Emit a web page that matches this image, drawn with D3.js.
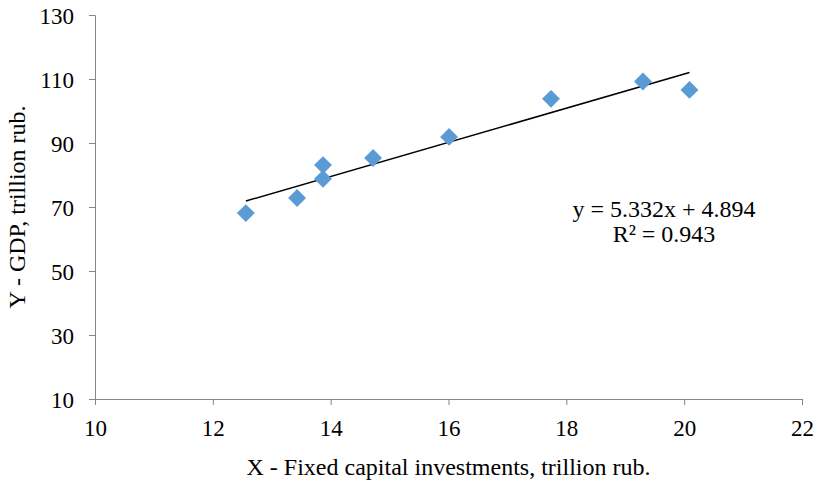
<!DOCTYPE html>
<html lang="en">
<head>
<meta charset="UTF-8">
<title>GDP vs investments</title>
<script src="https://d3js.org/d3.v7.min.js"></script>
<style>
  body { margin: 0; background: #fff; }
  text { font-family: "Liberation Serif", "Times New Roman", serif; fill: #000; }
</style>
</head>
<body>
<div id="chart"></div>
<script>
// data
const investments = [12.56, 13.43, 13.87, 13.87, 14.72, 16.01, 17.74, 19.30, 20.09];
const gdp = [68.1, 72.8, 83.1, 78.8, 85.3, 91.9, 103.8, 109.2, 106.6];
const xTicks = [10, 12, 14, 16, 18, 20, 22];
const yTicks = [10, 30, 50, 70, 90, 110, 130];
const slope = 5.332;
const intercept = 4.894;
const r2 = 0.943;

const w = 815, h = 480;
const plotLeft = 95, plotRight = 802, plotTop = 15, plotBottom = 399;

const svg = d3.select('#chart').append('svg')
    .attr('width', w)
    .attr('height', h);

const x = d3.scaleLinear().domain([10, 22]).range([plotLeft, plotRight]);
const y = d3.scaleLinear().domain([10, 130]).range([plotBottom, plotTop]);

const xAxis = svg.append('g')
    .attr('transform', 'translate(0,' + plotBottom + ')')
    .call(d3.axisBottom(x).tickValues(xTicks).tickSize(6).tickPadding(15).tickFormat(d3.format('d')));
const yAxis = svg.append('g')
    .attr('transform', 'translate(' + plotLeft + ',0)')
    .call(d3.axisLeft(y).tickValues(yTicks).tickSize(6).tickPadding(15).tickFormat(d3.format('d')));

[xAxis, yAxis].forEach(g => {
    g.select('.domain').attr('stroke', '#868686');
    g.selectAll('.tick line').attr('stroke', '#868686');
    g.selectAll('.tick text').style('font-size', '23px').attr('fill', '#000');
});
yAxis.selectAll('.tick text').attr('dy', '0.35em');

// trend line across data range
const xr = d3.extent(investments);
svg.append('line')
    .attr('x1', x(xr[0])).attr('y1', y(slope * xr[0] + intercept))
    .attr('x2', x(xr[1])).attr('y2', y(slope * xr[1] + intercept))
    .attr('stroke', '#000')
    .attr('stroke-width', 1.5);

// diamonds
const diamond = d3.symbol().type(d3.symbolSquare).size(160);
svg.selectAll('path.pt')
    .data(investments)
    .enter()
    .append('path')
    .attr('class', 'pt')
    .attr('d', diamond)
    .attr('transform', (d, i) => 'translate(' + x(d) + ',' + y(gdp[i]) + ') rotate(45)')
    .attr('fill', '#5B9BD5');

// equation
svg.append('text')
    .attr('x', 664).attr('y', 217)
    .attr('text-anchor', 'middle')
    .style('font-size', '24px')
    .text('y = ' + slope + 'x + ' + intercept);
svg.append('text')
    .attr('x', 664).attr('y', 242)
    .attr('text-anchor', 'middle')
    .style('font-size', '24px')
    .text('R² = ' + r2);

// axis titles
svg.append('text')
    .attr('x', (plotLeft + plotRight) / 2).attr('y', 475)
    .attr('text-anchor', 'middle')
    .style('font-size', '24px')
    .text('X - Fixed capital investments, trillion rub.');
svg.append('text')
    .attr('transform', 'translate(25,' + (plotTop + plotBottom) / 2 + ') rotate(-90)')
    .attr('text-anchor', 'middle')
    .style('font-size', '24px')
    .text('Y - GDP, trillion rub.');
</script>
</body>
</html>
